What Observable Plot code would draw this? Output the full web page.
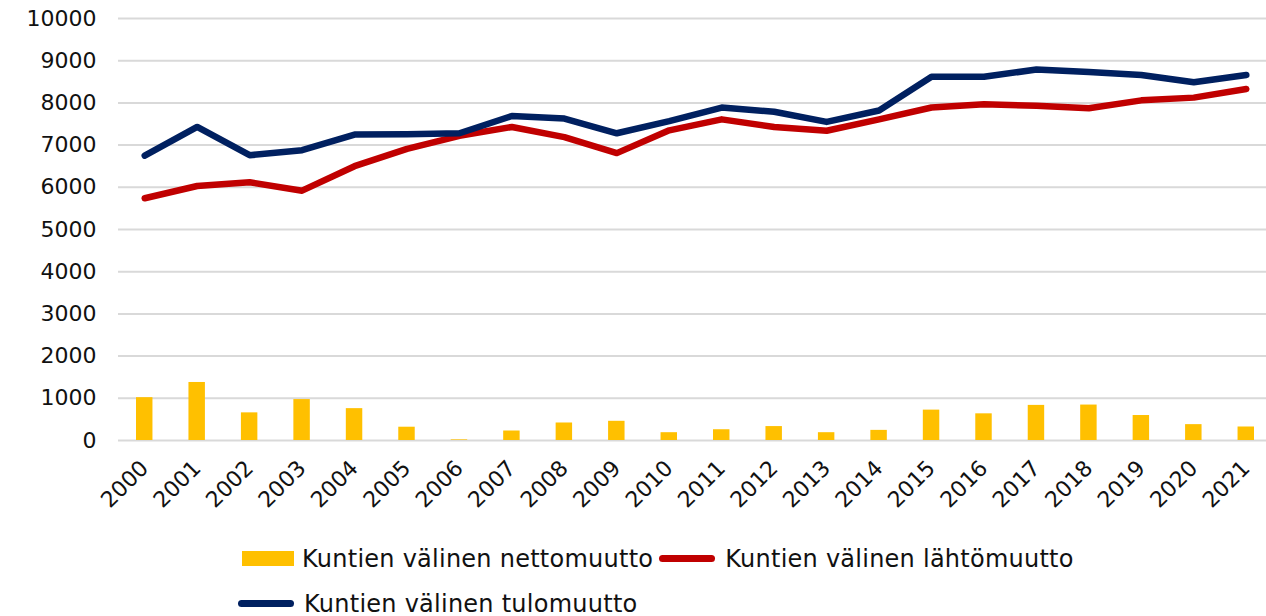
<!DOCTYPE html>
<html>
<head>
<meta charset="utf-8">
<script src="https://cdn.jsdelivr.net/npm/d3@7"></script>
<script src="https://cdn.jsdelivr.net/npm/@observablehq/plot@0.6"></script>
<style>
  html, body { margin: 0; padding: 0; background: #fff; width: 1266px; height: 616px; overflow: hidden; }
  #chart { position: absolute; left: 0; top: 0; }
  #legend { position: absolute; left: 238px; top: 536px; width: 880px; font-family: "DejaVu Sans", sans-serif; font-size: 24px; letter-spacing: 0.25px; color: #111; display: flex; flex-wrap: wrap; }
  .item { display: flex; align-items: center; height: 45px; margin-right: 6px; }
  .sw-rect { width: 52px; height: 15px; margin-right: 8px; margin-left: 4px; }
  .sw-line { width: 56px; height: 7px; border-radius: 4px; margin-right: 10px; }
</style>
</head>
<body>
<div id="chart"></div>
<div id="legend"></div>
<script>
const years = ["2000","2001","2002","2003","2004","2005","2006","2007","2008","2009","2010","2011","2012","2013","2014","2015","2016","2017","2018","2019","2020","2021"];
const netto = [1015, 1375, 655, 970, 755, 315, 15, 225, 415, 455, 185, 255, 330, 185, 240, 720, 632, 832, 840, 592, 376, 320];
const lahto = [5740, 6030, 6120, 5920, 6500, 6910, 7220, 7430, 7190, 6810, 7350, 7610, 7430, 7340, 7610, 7890, 7970, 7930, 7875, 8060, 8125, 8330];
const tulo  = [6750, 7430, 6760, 6880, 7250, 7255, 7280, 7690, 7630, 7280, 7570, 7890, 7790, 7550, 7820, 8620, 8620, 8790, 8730, 8660, 8490, 8660];
const yTicks = [0,1000,2000,3000,4000,5000,6000,7000,8000,9000,10000];
const seriesNames = ["Kuntien välinen nettomuutto", "Kuntien välinen lähtömuutto", "Kuntien välinen tulomuutto"];
const colors = ["#FFC000", "#C00000", "#002060"];

const rows = years.map((y, i) => ({year: y, netto: netto[i], lahto: lahto[i], tulo: tulo[i]}));

const chart = Plot.plot({
  width: 1266,
  height: 530,
  marginLeft: 118,
  marginRight: 0,
  marginTop: 18,
  marginBottom: 90,
  style: {fontFamily: "DejaVu Sans, sans-serif", fontSize: "22px", color: "#111", background: "#fff", overflow: "visible"},
  x: {type: "band", domain: years, range: [118, 1272], padding: 0, round: false},
  y: {domain: [0, 10000]},
  marks: [
    Plot.ruleY(yTicks, {stroke: "#d9d9d9", strokeWidth: 2}),
    Plot.barY(rows, {x: "year", y: "netto", fill: colors[0], insetLeft: 18, insetRight: 18}),
    Plot.line(rows, {x: "year", y: "lahto", stroke: colors[1], strokeWidth: 6.5, strokeLinecap: "round", strokeLinejoin: "round"}),
    Plot.line(rows, {x: "year", y: "tulo", stroke: colors[2], strokeWidth: 6.5, strokeLinecap: "round", strokeLinejoin: "round"}),
    Plot.axisY({ticks: yTicks, tickSize: 0, tickPadding: 22, tickFormat: d => String(d), label: null, fontSize: 22}),
    Plot.axisX({tickSize: 0, tickPadding: 24, tickRotate: -45, label: null, fontSize: 22})
  ]
});
document.getElementById("chart").appendChild(chart);

const legend = document.getElementById("legend");
seriesNames.forEach((name, i) => {
  const item = document.createElement("div");
  item.className = "item";
  const sw = document.createElement("div");
  sw.className = i === 0 ? "sw-rect" : "sw-line";
  sw.style.background = colors[i];
  const t = document.createElement("span");
  t.textContent = name;
  item.appendChild(sw);
  item.appendChild(t);
  legend.appendChild(item);
});
</script>
</body>
</html>
